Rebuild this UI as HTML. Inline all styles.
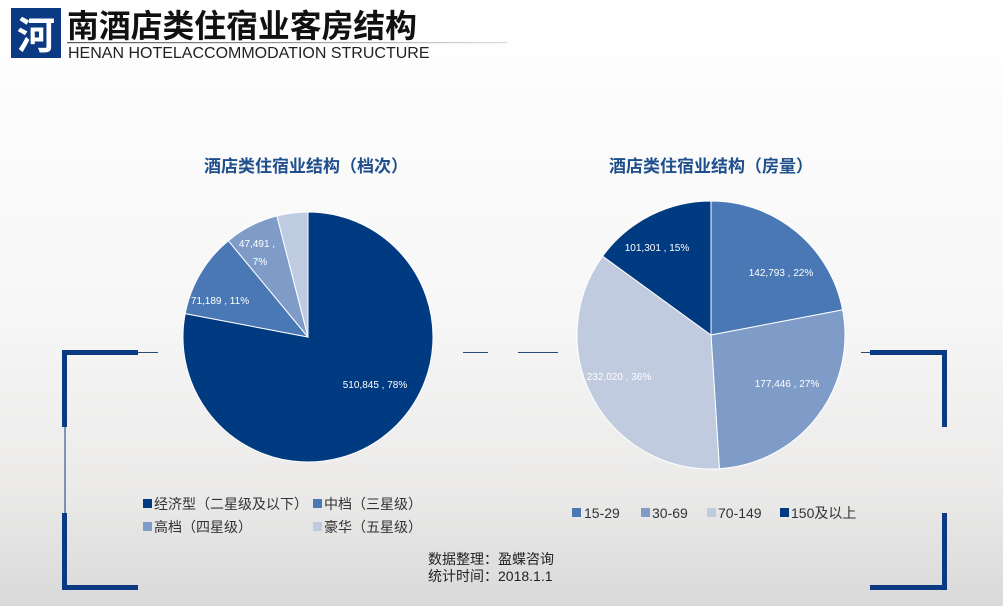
<!DOCTYPE html>
<html><head><meta charset="utf-8"><style>
html,body{margin:0;padding:0}
body{width:1003px;height:606px;overflow:hidden;font-family:"Liberation Sans","Noto Sans CJK SC",sans-serif;}
</style></head><body>
<svg width="1003" height="606" viewBox="0 0 1003 606" xmlns="http://www.w3.org/2000/svg" font-family="Liberation Sans, Noto Sans CJK SC, sans-serif">
<defs>
<linearGradient id="bg" x1="0" y1="0" x2="0" y2="1">
<stop offset="0" stop-color="#ffffff"/>
<stop offset="0.5" stop-color="#f7f7f7"/>
<stop offset="0.8" stop-color="#ecebea"/>
<stop offset="1" stop-color="#d9d9d9"/>
</linearGradient>
<linearGradient id="ln" x1="0" y1="0" x2="1" y2="0">
<stop offset="0" stop-color="#555"/><stop offset="1" stop-color="#ddd"/>
</linearGradient>
</defs>
<rect width="1003" height="606" fill="url(#bg)"/>
<!-- header -->
<rect x="11" y="8" width="50" height="50" fill="#0c3a82"/>
<text x="36" y="49" font-size="38" font-weight="bold" fill="#fff" text-anchor="middle">河</text>
<text x="67" y="37" font-size="32" font-weight="bold" fill="#111" textLength="350" lengthAdjust="spacingAndGlyphs">南酒店类住宿业客房结构</text>
<rect x="67" y="42" width="440" height="1.2" fill="url(#ln)"/>
<text x="68" y="58" font-size="16" fill="#222">HENAN HOTELACCOMMODATION STRUCTURE</text>
<!-- titles -->
<text x="306" y="172" font-size="17" font-weight="bold" fill="#1f4e8c" text-anchor="middle">酒店类住宿业结构（档次）</text>
<text x="711" y="172" font-size="17" font-weight="bold" fill="#1f4e8c" text-anchor="middle">酒店类住宿业结构（房量）</text>
<!-- brackets -->
<g fill="#0c3a82">
<rect x="62" y="350" width="76" height="5"/>
<rect x="138" y="352" width="20" height="1" fill="#2a4a7a"/>
<rect x="62" y="350" width="5" height="77"/>
<rect x="64.5" y="427" width="1" height="86"/>
<rect x="62" y="513" width="5" height="77"/>
<rect x="62" y="585" width="76" height="5"/>
<rect x="870" y="350" width="77" height="5"/>
<rect x="861" y="352" width="9" height="1" fill="#2a4a7a"/>
<rect x="942" y="350" width="5" height="77"/>
<rect x="942" y="513" width="5" height="77"/>
<rect x="870" y="585" width="77" height="5"/>
<rect x="463" y="352" width="25" height="1" fill="#2a4a7a"/>
<rect x="518" y="352" width="40" height="1" fill="#2a4a7a"/>
</g>
<!-- left pie -->
<g stroke="#fff" stroke-width="1">
<path d="M308,337 L308,212 A125,125 0 1 1 185.2,313.6 Z" fill="#003a80"/>
<path d="M308,337 L185.2,313.6 A125,125 0 0 1 228.3,240.7 Z" fill="#4a78b5"/>
<path d="M308,337 L228.3,240.7 A125,125 0 0 1 276.9,215.9 Z" fill="#7f9cc8"/>
<path d="M308,337 L276.9,215.9 A125,125 0 0 1 308,212 Z" fill="#bfcbe0"/>
</g>
<g font-size="10" fill="#fff" text-anchor="middle">
<text x="375" y="388">510,845 , 78%</text>
<text x="220" y="304">71,189 , 11%</text>
<text x="257" y="247">47,491 ,</text>
<text x="260" y="265">7%</text>
</g>
<!-- right pie -->
<g stroke="#fff" stroke-width="1">
<path d="M711,335 L711,201 A134,134 0 0 1 842.6,309.9 Z" fill="#4a78b5"/>
<path d="M711,335 L842.6,309.9 A134,134 0 0 1 719.4,468.7 Z" fill="#7f9cc8"/>
<path d="M711,335 L719.4,468.7 A134,134 0 0 1 602.6,256.2 Z" fill="#c0cbdf"/>
<path d="M711,335 L602.6,256.2 A134,134 0 0 1 711,201 Z" fill="#003a80"/>
</g>
<g font-size="10" text-anchor="middle">
<text x="781" y="276" fill="#fff">142,793 , 22%</text>
<text x="787" y="387" fill="#fff">177,446 , 27%</text>
<text x="619" y="380" fill="#fff">232,020 , 36%</text>
<text x="657" y="251" fill="#fff">101,301 , 15%</text>
</g>
<!-- left legend -->
<g font-size="14" fill="#333">
<rect x="143" y="499" width="9" height="9" fill="#003a80"/>
<text x="154" y="509">经济型（二星级及以下）</text>
<rect x="313" y="499" width="9" height="9" fill="#4a78b5"/>
<text x="324" y="509">中档（三星级）</text>
<rect x="143" y="522" width="9" height="9" fill="#7f9cc8"/>
<text x="154" y="532">高档（四星级）</text>
<rect x="313" y="522" width="9" height="9" fill="#bfcbe0"/>
<text x="324" y="532">豪华（五星级）</text>
</g>
<!-- right legend -->
<g font-size="14" fill="#333">
<rect x="572" y="508" width="9" height="9" fill="#4a78b5"/>
<text x="584" y="518">15-29</text>
<rect x="641" y="508" width="9" height="9" fill="#7f9cc8"/>
<text x="652" y="518">30-69</text>
<rect x="707" y="508" width="9" height="9" fill="#c0cbdf"/>
<text x="718" y="518">70-149</text>
<rect x="780" y="508" width="9" height="9" fill="#003a80"/>
<text x="791" y="518">150及以上</text>
</g>
<g font-size="14" fill="#222">
<text x="428" y="564">数据整理：盈蝶咨询</text>
<text x="428" y="581">统计时间：2018.1.1</text>
</g>
</svg>
</body></html>
